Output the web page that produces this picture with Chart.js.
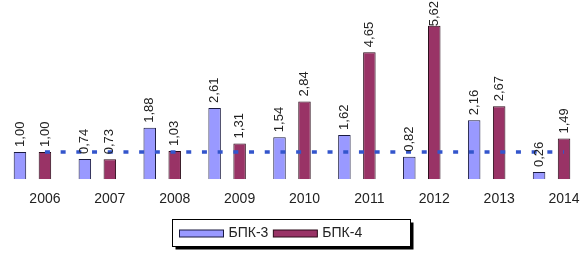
<!DOCTYPE html>
<html>
<head>
<meta charset="utf-8">
<script src="https://cdn.jsdelivr.net/npm/chart.js@4.4.1/dist/chart.umd.min.js"></script>
<style>
  html, body { margin: 0; padding: 0; background: #fff; }
  #wrap { width: 584px; height: 264px; }
</style>
</head>
<body>
<div id="wrap"><canvas id="grafico"></canvas></div>
<script>
const anni = ["2006", "2007", "2008", "2009", "2010", "2011", "2012", "2013", "2014"];
const bpk3 = [1.00, 0.74, 1.88, 2.61, 1.54, 1.62, 0.82, 2.16, 0.26];
const bpk4 = [1.00, 0.73, 1.03, 1.31, 2.84, 4.65, 5.62, 2.67, 1.49];
const livello = [1, 1, 1, 1, 1, 1, 1, 1, 1];

const fontBase = "'Liberation Sans', Arial, sans-serif";

// etichette ruotate sopra le barre
const etichettePlugin = {
    id: "etichette",
    afterDatasetsDraw(chart) {
        const ctx = chart.ctx;
        ctx.save();
        ctx.font = "13px " + fontBase;
        ctx.fillStyle = "#222";
        ctx.textAlign = "left";
        ctx.textBaseline = "middle";
        chart.data.datasets.forEach((ds, di) => {
            if (ds.type === "line") return;
            const meta = chart.getDatasetMeta(di);
            meta.data.forEach((bar, i) => {
                const testo = ds.data[i].toFixed(2).replace(".", ",");
                const w = ctx.measureText(testo).width;
                const inizio = Math.max(bar.y - 5, w + 1);
                ctx.save();
                ctx.translate(bar.x, inizio);
                ctx.rotate(-Math.PI / 2);
                ctx.fillText(testo, 0, 0);
                ctx.restore();
            });
        });
        ctx.restore();
    }
};

// legenda con cornice e ombra
const legendaPlugin = {
    id: "legenda",
    afterDraw(chart) {
        const ctx = chart.ctx;
        const bw = 238, bh = 27;
        const bx = Math.round((chart.width - bw) / 2) - 0.5;
        const by = 219.5;
        ctx.save();
        ctx.fillStyle = "#000";
        ctx.fillRect(bx + 3, by + 3, bw, bh);
        ctx.fillStyle = "#fff";
        ctx.fillRect(bx, by, bw, bh);
        ctx.strokeStyle = "#000";
        ctx.lineWidth = 1;
        ctx.strokeRect(bx, by, bw, bh);

        ctx.font = "14px " + fontBase;
        ctx.textBaseline = "middle";
        ctx.textAlign = "left";
        let x = bx + 7;
        const cy = by + 13.5;
        chart.data.datasets.forEach(ds => {
            if (ds.type === "line") return;
            ctx.fillStyle = ds.backgroundColor;
            ctx.fillRect(x, cy - 3, 44, 7);
            ctx.strokeStyle = ds.borderColor;
            ctx.strokeRect(x, cy - 3, 44, 7);
            x += 49;
            ctx.fillStyle = "#222";
            ctx.fillText(ds.label, x, cy);
            x += ctx.measureText(ds.label).width + 5;
        });
        ctx.restore();
    }
};

const spostamento = 12.5 / 64.9;

new Chart(document.getElementById("grafico"), {
    data: {
        labels: anni,
        datasets: [
            {
                type: "line",
                label: "livello",
                data: livello.map((v, i) => ({ x: i, y: v })),
                xAxisID: "x2",
                borderColor: "#3355cc",
                borderWidth: 3.5,
                borderDash: [5, 10.7],
                pointRadius: 0,
                fill: false,
                order: 0
            },
            {
                type: "bar",
                label: "БПК-3",
                data: bpk3,
                backgroundColor: "#9999ff",
                borderColor: "#1a1a40",
                borderWidth: 1,
                categoryPercentage: 1.54,
                barPercentage: 0.5,
                order: 1
            },
            {
                type: "bar",
                label: "БПК-4",
                data: bpk4,
                backgroundColor: "#993366",
                borderColor: "#2a0a18",
                borderWidth: 1,
                categoryPercentage: 1.54,
                barPercentage: 0.5,
                order: 1
            }
        ]
    },
    options: {
        responsive: true,
        maintainAspectRatio: false,
        animation: false,
        layout: { padding: { left: 0, right: 0, top: 0, bottom: 52 } },
        plugins: {
            legend: { display: false },
            tooltip: { enabled: false }
        },
        scales: {
            x: {
                type: "category",
                grid: { display: false },
                border: { display: false },
                ticks: {
                    color: "#222",
                    font: { family: fontBase, size: 14 },
                    padding: 4,
                    labelOffset: 12.5,
                    maxRotation: 0,
                    autoSkip: false
                }
            },
            x2: {
                type: "linear",
                display: false,
                min: -0.5 - spostamento,
                max: 8.5 - spostamento
            },
            y: {
                display: false,
                min: 0,
                max: 6.56
            }
        }
    },
    plugins: [etichettePlugin, legendaPlugin]
});
</script>
</body>
</html>
